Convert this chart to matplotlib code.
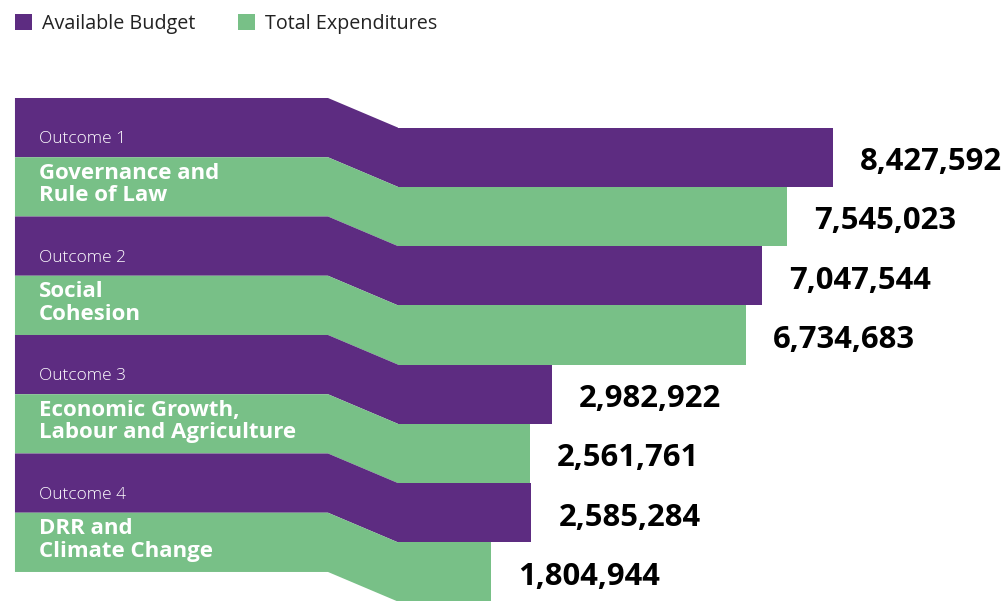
import matplotlib
matplotlib.use("Agg")
import matplotlib.pyplot as plt
from matplotlib.patches import Patch

# Data
outcomes = ["Outcome 1", "Outcome 2", "Outcome 3", "Outcome 4"]
titles = ["Governance and\nRule of Law", "Social\nCohesion",
          "Economic Growth,\nLabour and Agriculture", "DRR and\nClimate Change"]
available_budget = [8427592, 7047544, 2982922, 2585284]
total_expenditures = [7545023, 6734683, 2561761, 1804944]
series_names = ["Available Budget", "Total Expenditures"]

PURPLE = "#5d2c81"
GREEN = "#78c087"
FONT = "Open Sans"

plt.rcParams["font.family"] = [FONT, "DejaVu Sans"]

fig = plt.figure(figsize=(10.08, 6.01), dpi=100)
ax = fig.add_axes([0, 0, 1, 1])
ax.set_axis_off()

# x in millions, y in row units (one row per bar)
ax.set_xlim(-7.710, 11.817)
ax.set_ylim(8.49, -1.654)

left_edge = -7.42      # start of the label bands
slant_start = -1.356   # where each band bends down towards its bar

rows = []
for i in range(len(outcomes)):
    rows.append((available_budget[i], PURPLE))
    rows.append((total_expenditures[i], GREEN))

for r, (val, col) in enumerate(rows):
    v = val / 1e6
    # label band and the ribbon that bends down half a row
    xs = [left_edge, slant_start, 0, 0, slant_start, left_edge]
    ys = [r, r, r + 0.5, r + 1.5, r + 1, r + 1]
    ax.fill(xs, ys, color=col, lw=0, zorder=2)
    # the bar itself
    ax.barh(r + 1.0, v, height=1.0, left=0, color=col, lw=0, zorder=2)
    ax.annotate(f"{val:,}", xy=(v, r + 1.0), xytext=(27, -5),
                textcoords="offset pixels", ha="left", va="center",
                fontsize=22.3, fontweight="bold", color="black",
                family=[FONT, "DejaVu Sans"])

for i, (o, t) in enumerate(zip(outcomes, titles)):
    r = 2 * i
    ax.text(-6.96, r + 0.70, o, ha="left", va="center", fontsize=12.5,
            fontweight="light", color="white", family=[FONT, "DejaVu Sans"])
    ax.text(-6.96, r + 1.46, t, ha="left", va="center", fontsize=16,
            fontweight="bold", color="white", linespacing=1.08,
            family=[FONT, "DejaVu Sans"])

handles = [Patch(facecolor=PURPLE, edgecolor="none", label=series_names[0]),
           Patch(facecolor=GREEN, edgecolor="none", label=series_names[1])]
leg = ax.legend(handles=handles, loc="upper left", ncol=2, frameon=False,
                bbox_to_anchor=(15 / 1008, 1 - 14 / 601), bbox_transform=fig.transFigure,
                fontsize=14.2, handlelength=0.85, handleheight=0.85, handletextpad=0.5,
                columnspacing=2.2, borderaxespad=0, borderpad=0)
for txt in leg.get_texts():
    txt.set_color("#222222")

fig.savefig("out.png", dpi=100)
